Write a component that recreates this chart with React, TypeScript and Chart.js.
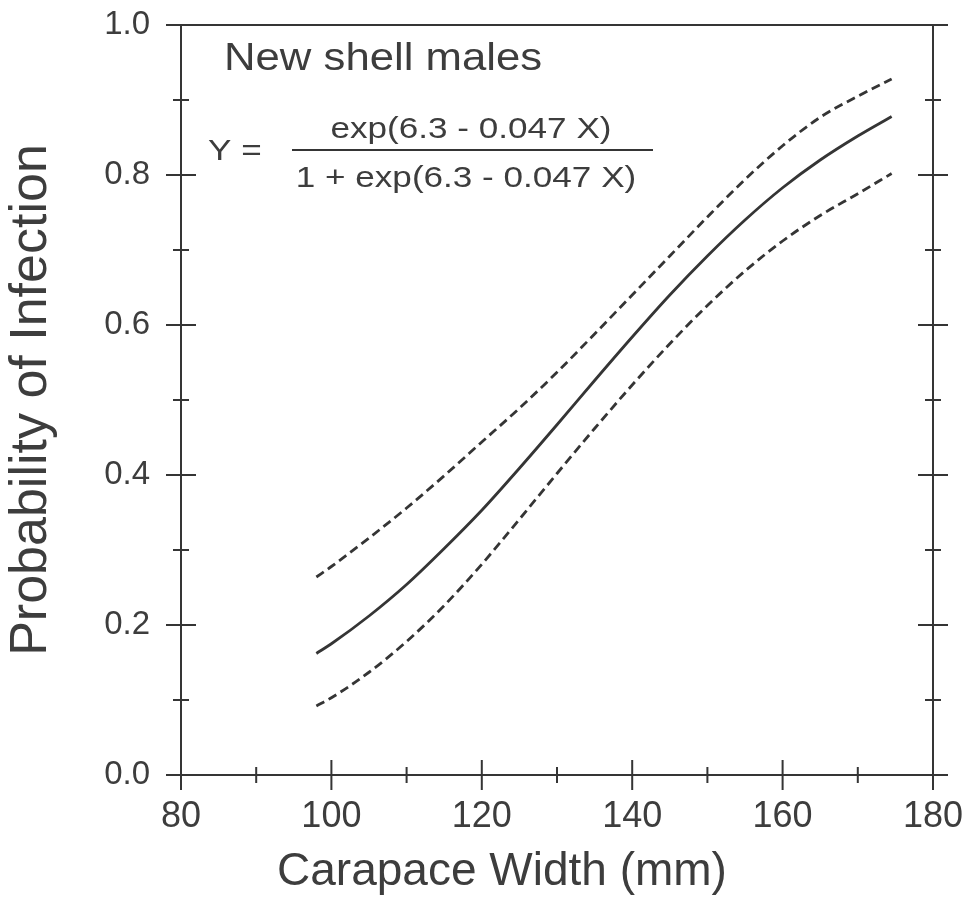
import React, { useEffect, useRef } from "react";
import { Chart, registerables } from "chart.js";

Chart.register(...registerables);

// ---- data ----
const widths = [98, 100, 105, 110, 115, 120, 125, 130, 135, 140, 145, 150, 155, 160, 165, 170, 174.5];
const fitted = [0.162, 0.175, 0.212, 0.254, 0.302, 0.353, 0.409, 0.467, 0.526, 0.584, 0.64, 0.692, 0.74, 0.783, 0.82, 0.852, 0.878];
const upperBound = [0.264, 0.278, 0.316, 0.356, 0.399, 0.444, 0.489, 0.537, 0.588, 0.64, 0.692, 0.744, 0.794, 0.839, 0.877, 0.905, 0.928];
const lowerBound = [0.092, 0.103, 0.137, 0.178, 0.226, 0.281, 0.341, 0.402, 0.462, 0.52, 0.575, 0.626, 0.672, 0.712, 0.746, 0.775, 0.802];

const xTickValues = [80, 100, 120, 140, 160, 180];
const xMinorTicks = [90, 110, 130, 150, 170];
const yTickValues = [0, 0.2, 0.4, 0.6, 0.8, 1.0];
const yMinorTicks = [0.1, 0.3, 0.5, 0.7, 0.9];

const xTitle = "Carapace Width (mm)";
const yTitle = "Probability of Infection";
const groupLabel = "New shell males";
const formulaLeft = "Y =";
const formulaNum = "exp(6.3 - 0.047 X)";
const formulaDen = "1 + exp(6.3 - 0.047 X)";

const INK = "#353535";
const TEXT = "#3d3d3d";
const FONT = "'Liberation Sans', Arial, Helvetica, sans-serif";

const framePlugin = {
  id: "frame",
  afterDraw(chart: any) {
    const { ctx, chartArea: a, scales } = chart;
    const x = scales.x;
    const y = scales.y;
    ctx.save();
    ctx.strokeStyle = INK;
    ctx.lineWidth = 2;
    ctx.lineCap = "butt";
    ctx.beginPath();
    ctx.moveTo(a.left, a.top);
    ctx.lineTo(a.left, a.bottom);
    ctx.lineTo(a.right, a.bottom);
    ctx.lineTo(a.right, a.top);
    ctx.lineTo(a.left, a.top);
    ctx.stroke();
    const MAJ = 15;
    const MIN = 8;
    ctx.beginPath();
    xTickValues.forEach((v) => {
      const px = x.getPixelForValue(v);
      ctx.moveTo(px, a.bottom - MAJ);
      ctx.lineTo(px, a.bottom + MAJ);
    });
    xMinorTicks.forEach((v) => {
      const px = x.getPixelForValue(v);
      ctx.moveTo(px, a.bottom - MIN);
      ctx.lineTo(px, a.bottom + MIN);
    });
    yTickValues.forEach((v) => {
      const py = y.getPixelForValue(v);
      ctx.moveTo(a.left - MAJ, py);
      ctx.lineTo(a.left + MAJ, py);
      ctx.moveTo(a.right - MAJ, py);
      ctx.lineTo(a.right + MAJ, py);
    });
    yMinorTicks.forEach((v) => {
      const py = y.getPixelForValue(v);
      ctx.moveTo(a.left - MIN, py);
      ctx.lineTo(a.left + MIN, py);
      ctx.moveTo(a.right - MIN, py);
      ctx.lineTo(a.right + MIN, py);
    });
    ctx.stroke();

    ctx.fillStyle = TEXT;
    ctx.font = `46px ${FONT}`;
    ctx.textAlign = "center";
    ctx.textBaseline = "alphabetic";
    ctx.fillText(xTitle, 502, 885);

    const drawWide = (t: string, px: number, py: number, size: number, sx: number, align: CanvasTextAlign) => {
      ctx.save();
      ctx.translate(px, py);
      ctx.scale(sx, 1);
      ctx.font = `${size}px ${FONT}`;
      ctx.textAlign = align;
      ctx.textBaseline = "alphabetic";
      ctx.fillText(t, 0, 0);
      ctx.restore();
    };
    drawWide(groupLabel, 224, 70, 38, 1.15, "left");
    drawWide(formulaLeft, 208, 160, 30, 1.17, "left");
    drawWide(formulaNum, 471, 138, 30, 1.17, "center");
    drawWide(formulaDen, 466, 187, 30, 1.17, "center");
    ctx.beginPath();
    ctx.lineWidth = 2;
    ctx.moveTo(292, 150);
    ctx.lineTo(653, 150);
    ctx.stroke();
    ctx.restore();
  },
};

export default function App() {
  const ref = useRef<HTMLCanvasElement | null>(null);
  useEffect(() => {
    document.body.style.margin = "0";
    document.body.style.background = "#ffffff";
    if (!ref.current) return;
    const mk = (ys: number[]) => widths.map((w, i) => ({ x: w, y: ys[i] }));
    const common = {
      borderColor: INK,
      borderWidth: 2.8,
      pointRadius: 0,
      fill: false,
      cubicInterpolationMode: "monotone" as const,
    };
    const chart = new Chart(ref.current, {
      type: "line",
      data: {
        datasets: [
          { ...common, label: "Upper", data: mk(upperBound), borderDash: [9, 5] },
          { ...common, label: "Fitted", data: mk(fitted) },
          { ...common, label: "Lower", data: mk(lowerBound), borderDash: [9, 5] },
        ],
      },
      options: {
        animation: false,
        responsive: false,
        devicePixelRatio: 1,
        layout: { padding: { top: 25, right: 35, left: 0, bottom: 0 } },
        plugins: { legend: { display: false }, tooltip: { enabled: false } },
        scales: {
          x: {
            type: "linear",
            position: "bottom",
            min: 80,
            max: 180,
            afterBuildTicks: (s: any) => {
              s.ticks = xTickValues.map((v) => ({ value: v }));
            },
            afterFit: (s: any) => {
              s.height = 142;
              s.paddingLeft = 0;
              s.paddingRight = 0;
            },
            grid: { display: false, drawTicks: false },
            border: { display: false },
            ticks: {
              padding: 20,
              color: TEXT,
              font: { family: FONT, size: 36 },
              maxRotation: 0,
              autoSkip: false,
            },
          },
          y: {
            type: "linear",
            position: "left",
            min: 0,
            max: 1,
            afterBuildTicks: (s: any) => {
              s.ticks = yTickValues.map((v) => ({ value: v }));
            },
            afterFit: (s: any) => {
              s.width = 181;
              s.paddingTop = 0;
              s.paddingBottom = 0;
            },
            grid: { display: false, drawTicks: false },
            border: { display: false },
            ticks: {
              padding: 31,
              color: TEXT,
              font: { family: FONT, size: 33 },
              callback: (v: any) => Number(v).toFixed(1),
            },
            title: {
              display: true,
              text: yTitle,
              color: TEXT,
              font: { family: FONT, size: 52 },
              padding: { top: 0, bottom: 0 },
            },
          },
        },
      },
      plugins: [framePlugin],
    });
    return () => chart.destroy();
  }, []);
  return (
    <div style={{ width: 968, height: 917, background: "#fff" }}>
      <canvas ref={ref} width={968} height={917} style={{ display: "block" }} />
    </div>
  );
}
